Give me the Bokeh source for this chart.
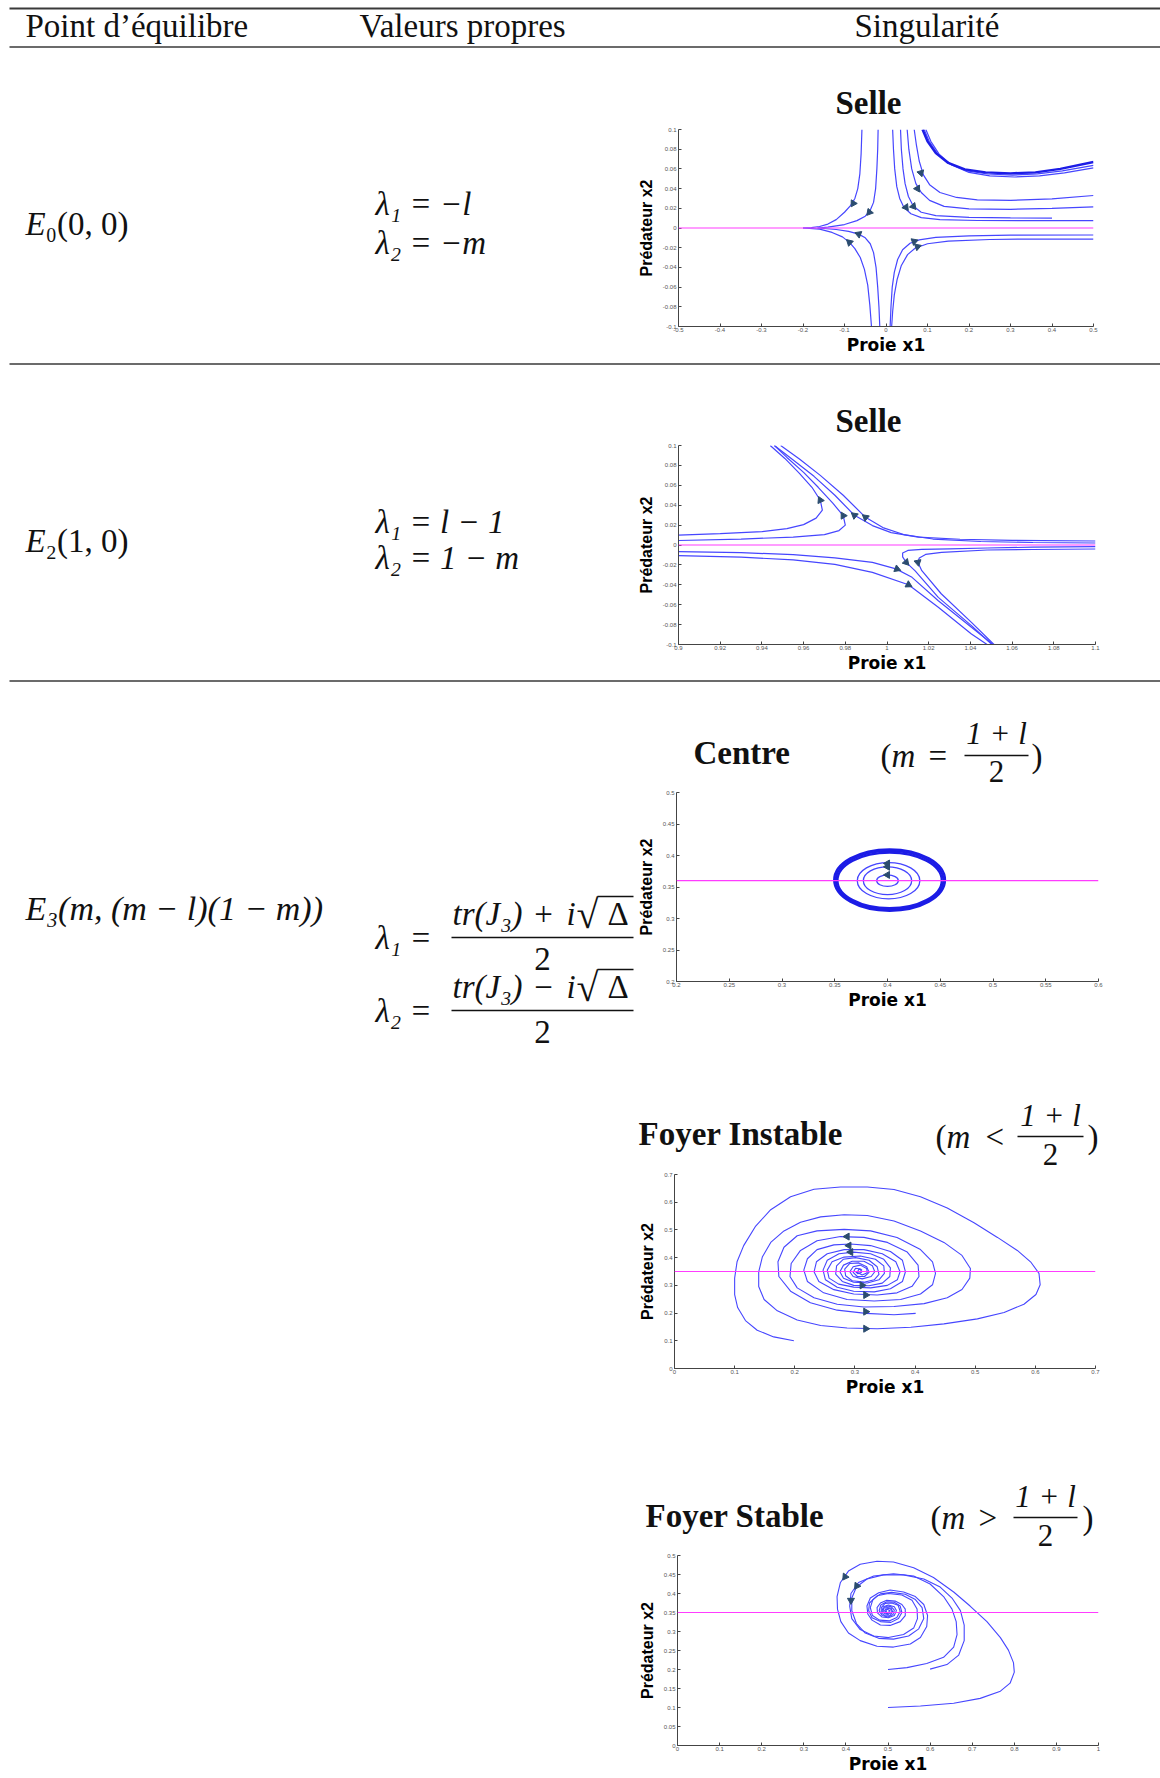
from bokeh.plotting import figure
from bokeh.models import Range1d, FixedTicker, CustomJSTickFormatter, Span, ColumnDataSource
from bokeh.layouts import row, column
from bokeh.embed import file_html
from bokeh.resources import INLINE
from bokeh.core.properties import value

# ---------------- table texts ----------------
HEADERS = ["Point d’équilibre", "Valeurs propres", "Singularité"]
POINTS = ["E₀(0, 0)", "E₂(1, 0)", "E₃(m, (m − l)(1 − m))"]
EIG_E0 = ["λ₁ = −l", "λ₂ = −m"]
EIG_E2 = ["λ₁ = l − 1", "λ₂ = 1 − m"]
EIG_E3_NUM_L = ["tr(J₃)", "tr(J₃)"]
EIG_E3_NUM_OP = ["+", "−"]
EIG_E3_LHS = ["λ₁ =", "λ₂ ="]
TITLES = ["Selle", "Selle", "Centre", "Foyer Instable", "Foyer Stable"]
REL = ["=", "<", ">"]
XLABEL = "Proie x1"
YLABEL = "Prédateur x2"

# ---------------- ticks ----------------
E0_XTICKS = [-0.5, -0.4, -0.3, -0.2, -0.1, 0, 0.1, 0.2, 0.3, 0.4, 0.5]
E0_YTICKS = [-0.1, -0.08, -0.06, -0.04, -0.02, 0, 0.02, 0.04, 0.06, 0.08, 0.1]
E2_XTICKS = [0.9, 0.92, 0.94, 0.96, 0.98, 1, 1.02, 1.04, 1.06, 1.08, 1.1]
E2_YTICKS = [-0.1, -0.08, -0.06, -0.04, -0.02, 0, 0.02, 0.04, 0.06, 0.08, 0.1]
C_XTICKS = [0.2, 0.25, 0.3, 0.35, 0.4, 0.45, 0.5, 0.55, 0.6]
C_YTICKS = [0.2, 0.25, 0.3, 0.35, 0.4, 0.45, 0.5]
FI_XTICKS = [0, 0.1, 0.2, 0.3, 0.4, 0.5, 0.6, 0.7]
FI_YTICKS = [0, 0.1, 0.2, 0.3, 0.4, 0.5, 0.6, 0.7]
FS_XTICKS = [0, 0.1, 0.2, 0.3, 0.4, 0.5, 0.6, 0.7, 0.8, 0.9, 1]
FS_YTICKS = [0, 0.05, 0.1, 0.15, 0.2, 0.25, 0.3, 0.35, 0.4, 0.45, 0.5]

# ---------------- E0 saddle ----------------
E0_EQ_Y = 0.0
E0_UL1_X = [-0.20, -0.18, -0.16, -0.14, -0.12, -0.10, -0.085, -0.075, -0.068, -0.063, -0.060, -0.058]
E0_UL1_Y = [0.0, 0.0003, 0.0015, 0.004, 0.0085, 0.016, 0.023, 0.030, 0.040, 0.055, 0.075, 0.10]
E0_UL2_X = [-0.165, -0.14, -0.10, -0.07, -0.05, -0.038, -0.030, -0.025, -0.022, -0.020, -0.019]
E0_UL2_Y = [0.0, 0.0008, 0.0035, 0.0075, 0.012, 0.018, 0.026, 0.040, 0.060, 0.080, 0.10]
E0_LL1_X = [-0.20, -0.16, -0.13, -0.105, -0.088, -0.075, -0.062, -0.052, -0.044, -0.039, -0.035]
E0_LL1_Y = [0.0, -0.0012, -0.0045, -0.009, -0.0146, -0.021, -0.030, -0.042, -0.058, -0.078, -0.10]
E0_LL2_X = [-0.165, -0.12, -0.09, -0.066, -0.050, -0.038, -0.030, -0.024, -0.020, -0.017, -0.015]
E0_LL2_Y = [0.0, -0.0015, -0.0035, -0.0062, -0.010, -0.016, -0.025, -0.040, -0.060, -0.080, -0.10]
E0_UR1_X = [0.016, 0.018, 0.021, 0.026, 0.033, 0.043, 0.060, 0.085, 0.13, 0.22, 0.35, 0.50]
E0_UR1_Y = [0.10, 0.080, 0.060, 0.042, 0.030, 0.021, 0.0145, 0.0105, 0.0085, 0.0076, 0.0074, 0.0074]
E0_UR2_X = [0.035, 0.037, 0.041, 0.046, 0.054, 0.066, 0.085, 0.12, 0.20, 0.30, 0.40]
E0_UR2_Y = [0.10, 0.080, 0.060, 0.045, 0.032, 0.022, 0.016, 0.0125, 0.0108, 0.0102, 0.0100]
E0_UR3_X = [0.051, 0.055, 0.062, 0.072, 0.085, 0.105, 0.14, 0.20, 0.30, 0.40, 0.50]
E0_UR3_Y = [0.10, 0.080, 0.060, 0.045, 0.036, 0.028, 0.022, 0.0195, 0.019, 0.020, 0.0215]
E0_UR4_X = [0.068, 0.073, 0.080, 0.090, 0.105, 0.13, 0.17, 0.22, 0.30, 0.40, 0.50]
E0_UR4_Y = [0.10, 0.085, 0.068, 0.054, 0.044, 0.036, 0.031, 0.0285, 0.028, 0.0295, 0.033]
E0_UR5_X = [0.088, 0.100, 0.120, 0.150, 0.19, 0.24, 0.30, 0.36, 0.42, 0.50]
E0_UR5_Y = [0.10, 0.088, 0.076, 0.066, 0.0595, 0.0565, 0.0555, 0.0565, 0.060, 0.067]
E0_UR6_X = [0.096, 0.108, 0.128, 0.158, 0.20, 0.25, 0.31, 0.37, 0.43, 0.50]
E0_UR6_Y = [0.10, 0.088, 0.075, 0.064, 0.0565, 0.053, 0.0518, 0.053, 0.056, 0.061]
E0_UR7_X = [0.092, 0.104, 0.124, 0.154, 0.195, 0.245, 0.305, 0.365, 0.425, 0.50]
E0_UR7_Y = [0.10, 0.088, 0.0755, 0.065, 0.058, 0.0548, 0.0537, 0.055, 0.058, 0.0635]
E0_LR1_X = [0.010, 0.012, 0.015, 0.020, 0.028, 0.040, 0.058, 0.08, 0.12, 0.20, 0.30, 0.50]
E0_LR1_Y = [-0.10, -0.080, -0.060, -0.045, -0.032, -0.022, -0.0155, -0.012, -0.0095, -0.008, -0.0073, -0.0071]
E0_LR2_X = [0.0136, 0.016, 0.020, 0.027, 0.037, 0.052, 0.070, 0.10, 0.15, 0.25, 0.35, 0.50]
E0_LR2_Y = [-0.10, -0.085, -0.068, -0.052, -0.038, -0.027, -0.0205, -0.016, -0.0133, -0.0117, -0.0112, -0.0112]
E0_ARROW_X = [-0.079, -0.040, 0.084, 0.076, 0.048, 0.066, -0.088, -0.066, 0.068, 0.076]
E0_ARROW_Y = [0.025, 0.016, 0.056, 0.040, 0.021, 0.022, -0.0146, -0.0062, -0.0136, -0.019]
E0_ARROW_ANGLE = [149, 140, -163, -149, -144, -140, 47, 69, -70, -71]

# ---------------- E2 saddle ----------------
E2_EQ_Y = 0.0
E2_A_X = [0.90, 0.92, 0.94, 0.952, 0.960, 0.966, 0.969, 0.968, 0.964, 0.958, 0.951, 0.944]
E2_A_Y = [0.010, 0.0115, 0.0135, 0.0165, 0.0205, 0.027, 0.035, 0.045, 0.058, 0.072, 0.087, 0.10]
E2_B_X = [0.90, 0.93, 0.955, 0.970, 0.977, 0.980, 0.979, 0.974, 0.967, 0.960, 0.952, 0.946]
E2_B_Y = [0.0045, 0.006, 0.008, 0.0105, 0.0145, 0.020, 0.0295, 0.042, 0.058, 0.073, 0.088, 0.10]
E2_C_X = [0.946, 0.955, 0.965, 0.975, 0.9844, 0.993, 1.002, 1.015, 1.035, 1.06, 1.10]
E2_C_Y = [0.10, 0.0855, 0.069, 0.050, 0.0298, 0.0195, 0.0125, 0.008, 0.0058, 0.0047, 0.004]
E2_D_X = [0.949, 0.958, 0.968, 0.979, 0.9897, 0.998, 1.008, 1.022, 1.045, 1.07, 1.10]
E2_D_Y = [0.10, 0.0865, 0.070, 0.050, 0.0278, 0.0175, 0.0105, 0.006, 0.0035, 0.0025, 0.002]
E2_E_X = [0.90, 0.93, 0.955, 0.975, 0.993, 1.0043, 1.012, 1.0246, 1.0405, 1.0508]
E2_E_Y = [-0.0067, -0.0077, -0.0097, -0.013, -0.0174, -0.024, -0.0325, -0.056, -0.0827, -0.10]
E2_F_X = [0.90, 0.93, 0.955, 0.975, 0.993, 1.0103, 1.0246, 1.0405, 1.048]
E2_F_Y = [-0.0107, -0.0122, -0.015, -0.0195, -0.0275, -0.040, -0.0626, -0.0894, -0.10]
E2_G_X = [1.10, 1.07, 1.048, 1.030, 1.0167, 1.010, 1.0075, 1.0075, 1.0092, 1.0135, 1.0246, 1.0405, 1.0503]
E2_G_Y = [-0.0017, -0.0022, -0.003, -0.0038, -0.0044, -0.0055, -0.008, -0.012, -0.0174, -0.026, -0.0526, -0.081, -0.10]
E2_H_X = [1.10, 1.07, 1.048, 1.0262, 1.0185, 1.0155, 1.0148, 1.0167, 1.026, 1.0405, 1.0513]
E2_H_Y = [-0.004, -0.0045, -0.005, -0.0074, -0.0095, -0.013, -0.0174, -0.0258, -0.049, -0.0777, -0.10]
E2_ARROW_X = [0.968, 0.979, 0.9844, 0.9897, 1.0048, 1.0103, 1.0092, 1.0148]
E2_ARROW_Y = [0.045, 0.0295, 0.0298, 0.0278, -0.0241, -0.040, -0.0174, -0.0174]
E2_ARROW_ANGLE = [25, 30, 51, 51, -111, -118, -138, -169]

# ---------------- Centre (closed orbits) ----------------
C_EQ_Y = 0.36
C_OUT_X = [0.402, 0.402, 0.402]
C_OUT_Y = [0.361, 0.3607, 0.3605]
C_OUT_W = [0.1051, 0.1020, 0.0988]
C_OUT_H = [0.0976, 0.0930, 0.0883]
C_IN_X = [0.401, 0.400, 0.400]
C_IN_Y = [0.360, 0.360, 0.360]
C_IN_W = [0.0593, 0.0458, 0.0205]
C_IN_H = [0.0576, 0.0441, 0.0182]
C_ARROW_X = [0.4, 0.4, 0.4]
C_ARROW_Y = [0.3873, 0.3821, 0.3692]
C_ARROW_ANGLE = [90, 90, 90]

# ---------------- Foyer instable ----------------
FI_EQ_Y = 0.35
FI_T1_X = [0.1985, 0.165, 0.1375, 0.118, 0.105, 0.100, 0.100, 0.104, 0.115, 0.135, 0.160, 0.193, 0.232, 0.276,
           0.3205, 0.365, 0.409, 0.4535, 0.498, 0.537, 0.570, 0.592, 0.606, 0.608, 0.601, 0.581, 0.548, 0.5036,
           0.448, 0.393, 0.337, 0.287, 0.243, 0.204, 0.171, 0.149, 0.140, 0.140, 0.146, 0.160, 0.182, 0.2095,
           0.243, 0.282, 0.3205, 0.365, 0.409, 0.448, 0.478, 0.492, 0.491, 0.478, 0.4535, 0.415, 0.365, 0.315,
           0.2705, 0.232, 0.204, 0.192, 0.194, 0.2095, 0.237, 0.276, 0.315, 0.354, 0.387, 0.405, 0.4065, 0.395,
           0.370, 0.337, 0.298, 0.265, 0.240, 0.232, 0.236, 0.254, 0.282, 0.315, 0.3455, 0.368, 0.375, 0.3705,
           0.354, 0.326, 0.298, 0.273, 0.257, 0.254, 0.262, 0.282, 0.309, 0.334, 0.348, 0.349, 0.340, 0.3205,
           0.298, 0.281, 0.275, 0.281, 0.2955, 0.315, 0.329, 0.333, 0.327, 0.312, 0.297, 0.2915, 0.297, 0.309,
           0.3195, 0.3205, 0.312, 0.304, 0.3065, 0.312]
FI_T1_Y = [0.100, 0.114, 0.138, 0.173, 0.220, 0.267, 0.326, 0.385, 0.4435, 0.514, 0.573, 0.620, 0.647, 0.655,
           0.655, 0.646, 0.620, 0.579, 0.526, 0.473, 0.426, 0.385, 0.3435, 0.302, 0.267, 0.232, 0.202, 0.179,
           0.161, 0.149, 0.1435, 0.146, 0.155, 0.175, 0.208, 0.249, 0.296, 0.349, 0.402, 0.455, 0.4965, 0.528,
           0.547, 0.555, 0.552, 0.532, 0.4965, 0.455, 0.408, 0.361, 0.326, 0.285, 0.255, 0.234, 0.2235, 0.222,
           0.232, 0.255, 0.291, 0.332, 0.379, 0.426, 0.461, 0.476, 0.473, 0.455, 0.420, 0.373, 0.332, 0.2965,
           0.273, 0.265, 0.269, 0.2845, 0.314, 0.349, 0.385, 0.414, 0.429, 0.429, 0.414, 0.385, 0.349, 0.320,
           0.300, 0.291, 0.2935, 0.3045, 0.326, 0.355, 0.385, 0.402, 0.406, 0.394, 0.3705, 0.3435, 0.320, 0.3085,
           0.311, 0.326, 0.349, 0.373, 0.387, 0.387, 0.3705, 0.349, 0.332, 0.3235, 0.332, 0.349, 0.367, 0.373,
           0.361, 0.3455, 0.3375, 0.347, 0.3585, 0.355]
FI_T2_X = [0.401, 0.365, 0.318, 0.2705, 0.226, 0.193, 0.1735, 0.172, 0.182, 0.204, 0.237, 0.282, 0.326, 0.370,
           0.409, 0.429, 0.434, 0.429, 0.409, 0.376, 0.332, 0.287, 0.248, 0.221, 0.215, 0.221, 0.237, 0.265,
           0.293, 0.326, 0.359, 0.379, 0.384, 0.379, 0.359, 0.332, 0.298, 0.2705, 0.251, 0.247, 0.254, 0.2735,
           0.298, 0.326, 0.348, 0.359, 0.358, 0.3455, 0.3235, 0.298, 0.279, 0.268, 0.2695, 0.2805, 0.301, 0.3235,
           0.337, 0.340, 0.332, 0.315, 0.2955, 0.2845, 0.283, 0.2915, 0.3065, 0.3195, 0.3235, 0.316, 0.304, 0.297,
           0.301, 0.3095, 0.311, 0.305, 0.301]
FI_T2_Y = [0.199, 0.194, 0.199, 0.2105, 0.2375, 0.279, 0.332, 0.385, 0.4375, 0.479, 0.4965, 0.502, 0.4965, 0.473,
           0.429, 0.385, 0.3435, 0.302, 0.269, 0.249, 0.2435, 0.249, 0.273, 0.314, 0.355, 0.396, 0.429, 0.446,
           0.449, 0.4435, 0.422, 0.3905, 0.349, 0.314, 0.288, 0.2765, 0.279, 0.293, 0.320, 0.355, 0.3905, 0.414,
           0.420, 0.414, 0.394, 0.363, 0.332, 0.308, 0.2985, 0.300, 0.314, 0.3405, 0.3705, 0.394, 0.400, 0.3905,
           0.367, 0.340, 0.320, 0.3115, 0.3165, 0.3345, 0.359, 0.379, 0.381, 0.367, 0.347, 0.332, 0.332, 0.3465,
           0.3615, 0.359, 0.347, 0.342, 0.3495]
FI_ARROW_X = [0.287, 0.290, 0.293, 0.312, 0.318, 0.318, 0.318]
FI_ARROW_Y = [0.476, 0.4435, 0.420, 0.300, 0.265, 0.205, 0.1435]
FI_ARROW_ANGLE = [90, 90, 90, -90, -90, -90, -90]

# ---------------- Foyer stable ----------------
FS_EQ_Y = 0.35
FS_A_X = [0.50, 0.577, 0.656, 0.719, 0.767, 0.790, 0.800, 0.798, 0.786, 0.767, 0.735, 0.695, 0.656, 0.608,
          0.561, 0.513, 0.474, 0.434, 0.406, 0.387, 0.379, 0.380, 0.388, 0.406, 0.434, 0.474, 0.513, 0.553,
          0.577, 0.592, 0.594, 0.585, 0.565, 0.537, 0.505, 0.478, 0.458, 0.450, 0.452, 0.462, 0.482, 0.505,
          0.529, 0.541, 0.541, 0.533, 0.517, 0.497, 0.482, 0.474, 0.475, 0.486, 0.501, 0.515, 0.520, 0.515,
          0.501, 0.489, 0.486, 0.492, 0.501, 0.508, 0.507, 0.500, 0.495, 0.497]
FS_A_Y = [0.10, 0.104, 0.111, 0.124, 0.143, 0.164, 0.193, 0.218, 0.251, 0.284, 0.326, 0.367, 0.404, 0.442,
          0.468, 0.483, 0.485, 0.477, 0.459, 0.429, 0.392, 0.359, 0.326, 0.296, 0.276, 0.261, 0.259, 0.267,
          0.284, 0.313, 0.342, 0.371, 0.392, 0.404, 0.409, 0.402, 0.388, 0.367, 0.346, 0.330, 0.317, 0.316,
          0.326, 0.342, 0.359, 0.371, 0.380, 0.382, 0.375, 0.363, 0.349, 0.338, 0.336, 0.342, 0.355, 0.365,
          0.370, 0.365, 0.355, 0.346, 0.345, 0.350, 0.359, 0.361, 0.356, 0.352]
FS_B_X = [0.50, 0.545, 0.592, 0.632, 0.656, 0.664, 0.662, 0.652, 0.632, 0.600, 0.561, 0.513, 0.466, 0.430,
          0.412, 0.409, 0.414, 0.434, 0.466, 0.501, 0.537, 0.561, 0.570, 0.569, 0.557, 0.533, 0.501, 0.474,
          0.456, 0.454, 0.462, 0.482, 0.507, 0.525, 0.533, 0.529, 0.515, 0.497, 0.483, 0.479, 0.486, 0.500,
          0.512, 0.515, 0.508, 0.497, 0.489, 0.491, 0.500, 0.504, 0.497]
FS_B_Y = [0.20, 0.205, 0.216, 0.232, 0.259, 0.292, 0.326, 0.359, 0.392, 0.425, 0.446, 0.452, 0.446, 0.429,
          0.400, 0.367, 0.334, 0.305, 0.288, 0.284, 0.292, 0.309, 0.334, 0.359, 0.382, 0.396, 0.400, 0.394,
          0.375, 0.355, 0.336, 0.326, 0.324, 0.334, 0.350, 0.367, 0.377, 0.378, 0.370, 0.355, 0.342, 0.338,
          0.345, 0.356, 0.365, 0.367, 0.360, 0.349, 0.347, 0.355, 0.359]
FS_C_X = [0.600, 0.640, 0.668, 0.681, 0.681, 0.672, 0.652, 0.624, 0.585, 0.537, 0.489, 0.450, 0.425, 0.414,
          0.414, 0.425, 0.446, 0.478, 0.513, 0.549, 0.573, 0.585, 0.581, 0.565, 0.541, 0.509, 0.482, 0.464,
          0.458, 0.463, 0.480, 0.504, 0.521, 0.529, 0.524, 0.509, 0.493, 0.484, 0.484, 0.493, 0.505, 0.511,
          0.507, 0.497, 0.492, 0.497]
FS_C_Y = [0.201, 0.213, 0.238, 0.276, 0.317, 0.355, 0.388, 0.417, 0.438, 0.449, 0.449, 0.438, 0.417, 0.388,
          0.355, 0.321, 0.296, 0.282, 0.280, 0.288, 0.307, 0.334, 0.363, 0.384, 0.398, 0.403, 0.399, 0.384,
          0.363, 0.342, 0.330, 0.328, 0.337, 0.353, 0.369, 0.375, 0.374, 0.363, 0.349, 0.341, 0.342, 0.352,
          0.362, 0.363, 0.355, 0.350]
FS_ARROW_X = [0.398, 0.426, 0.412]
FS_ARROW_Y = [0.444, 0.420, 0.382]
FS_ARROW_ANGLE = [145, 146, 180]

# ---------------- styling ----------------
SERIF = "Liberation Serif"
TRAJ = "#4646ff"
DARK = "#1c1ce6"
ARROW = "#2b4c6f"
MAGENTA = "#ff3cff"
INK = "#111111"
RULE = "#3a3a3a"
FS = 33          # main serif size (px)
PW = 526         # width of the portrait column figures
PX0 = 634        # left edge of the portrait column


def helper(x0, x1, y0, y1):
    p = figure(width=x1 - x0, height=y1 - y0, x_range=Range1d(x0, x1), y_range=Range1d(y1, y0),
               output_backend="svg", toolbar_location=None, title=None,
               x_axis_type=None, y_axis_type=None, min_border=0, frame_align=False,
               outline_line_color=None, background_fill_color="white", border_fill_color="white")
    return p


def txt(p, x, y, s, size=FS, style="normal", align="left"):
    p.text(x=[x], y=[y], text=[s], text_font=value(SERIF), text_font_size=f"{size}px",
           text_font_style=style, text_align=align, text_baseline="middle", text_color=INK)


def hrule(p, x0, x1, y, w):
    p.segment(x0=[x0], y0=[y], x1=[x1], y1=[y], line_color=RULE, line_width=w)


def frac_title(p, x_title, y, title, x_par, x_m, x_rel, rel, xc, half, x_close, y_num, y_bar, y_den):
    txt(p, x_title, y, title, style="bold")
    txt(p, x_par, y_bar, "(")
    txt(p, x_m, y_bar, "m", style="italic")
    txt(p, x_rel, y_bar, rel)
    txt(p, xc, y_num, "1 + l", size=31, style="italic", align="center")
    p.segment(x0=[xc - half], y0=[y_bar], x1=[xc + half], y1=[y_bar], line_color=INK, line_width=1.3)
    txt(p, xc, y_den, "2", size=31, align="center")
    txt(p, x_close, y_bar, ")")


def phase(h, left, top, fw, fh, xr, yr, xticks, yticks, eq_y):
    w = PW
    p = figure(width=w, height=h, x_range=Range1d(*xr), y_range=Range1d(*yr),
               output_backend="svg", toolbar_location=None, title=None, frame_align=False,
               min_border_left=left, min_border_top=top,
               min_border_right=w - left - fw, min_border_bottom=h - top - fh,
               outline_line_color=None, background_fill_color="white", border_fill_color="white")
    p.grid.visible = False
    p.xaxis.ticker = FixedTicker(ticks=xticks, minor_ticks=[])
    p.yaxis.ticker = FixedTicker(ticks=yticks, minor_ticks=[])
    fmt = CustomJSTickFormatter(code="return String(tick);")
    p.xaxis.formatter = fmt
    p.yaxis.formatter = fmt
    for ax in (p.xaxis[0], p.yaxis[0]):
        ax.major_tick_in = 3
        ax.major_tick_out = 0
        ax.minor_tick_in = 0
        ax.minor_tick_out = 0
        ax.axis_line_color = "#444444"
        ax.major_tick_line_color = "#444444"
        ax.major_label_text_font = "Liberation Sans"
        ax.major_label_text_font_size = "6px"
        ax.major_label_text_color = "#555555"
        ax.axis_label_text_font_style = "bold"
        ax.axis_label_text_color = "#000000"
    p.xaxis.axis_label = XLABEL
    p.xaxis.axis_label_text_font = "DejaVu Sans"
    p.xaxis.axis_label_text_font_size = "17px"
    p.xaxis.major_label_standoff = 1
    p.xaxis.axis_label_standoff = 0
    p.yaxis.axis_label = YLABEL
    p.yaxis.axis_label_text_font = "Liberation Sans"
    p.yaxis.axis_label_text_font_size = "16px"
    p.yaxis.major_label_standoff = 2
    p.yaxis.axis_label_standoff = 5
    p.add_layout(Span(location=eq_y, dimension="width", line_color=MAGENTA, line_width=1.2))
    return p


def arrows(p, xs, ys, ang):
    src = ColumnDataSource(dict(x=xs, y=ys, a=ang))
    p.scatter(x="x", y="y", angle="a", angle_units="deg", marker="triangle", size=7,
              source=src, fill_color=ARROW, line_color=ARROW)


# ---------------- band A: rules, headers, first title ----------------
bandA = helper(0, 1160, 0, 124)
hrule(bandA, 9, 1160, 8, 2)
hrule(bandA, 9, 1160, 46.5, 1.4)
txt(bandA, 25, 25, HEADERS[0])
txt(bandA, 359, 25, HEADERS[1])
txt(bandA, 854, 25, HEADERS[2])
txt(bandA, 868, 102, TITLES[0], style="bold", align="center")

# ---------------- row E0 ----------------
bandB = helper(0, PX0, 124, 358)
txt(bandB, 25, 223, "E", style="italic")
txt(bandB, 45, 223, POINTS[0][1:])
txt(bandB, 375, 203, EIG_E0[0], style="italic")
txt(bandB, 375, 242, EIG_E0[1], style="italic")

p1 = phase(234, 43, 5, 416, 197, (-0.5, 0.5), (-0.1, 0.1), E0_XTICKS, E0_YTICKS, E0_EQ_Y)
p1.multi_line(xs=[E0_UL1_X, E0_UL2_X, E0_LL1_X, E0_LL2_X, E0_UR1_X, E0_UR2_X, E0_UR3_X, E0_UR4_X,
                  E0_UR6_X, E0_UR7_X, E0_LR1_X, E0_LR2_X],
              ys=[E0_UL1_Y, E0_UL2_Y, E0_LL1_Y, E0_LL2_Y, E0_UR1_Y, E0_UR2_Y, E0_UR3_Y, E0_UR4_Y,
                  E0_UR6_Y, E0_UR7_Y, E0_LR1_Y, E0_LR2_Y],
              line_color=TRAJ, line_width=1.2)
p1.line(E0_UR5_X, E0_UR5_Y, line_color=DARK, line_width=2.4)
arrows(p1, E0_ARROW_X, E0_ARROW_Y, E0_ARROW_ANGLE)

# ---------------- band C ----------------
bandC = helper(0, 1160, 358, 441)
hrule(bandC, 9, 1160, 363.5, 1.5)
txt(bandC, 868, 420, TITLES[1], style="bold", align="center")

# ---------------- row E2 ----------------
bandD = helper(0, PX0, 441, 676)
txt(bandD, 25, 540, "E", style="italic")
txt(bandD, 45, 540, POINTS[1][1:])
txt(bandD, 375, 521, EIG_E2[0], style="italic")
txt(bandD, 375, 557, EIG_E2[1], style="italic")

p2 = phase(235, 41, 4, 420, 199, (0.9, 1.1), (-0.1, 0.1), E2_XTICKS, E2_YTICKS, E2_EQ_Y)
p2.multi_line(xs=[E2_A_X, E2_B_X, E2_C_X, E2_D_X, E2_E_X, E2_F_X, E2_G_X, E2_H_X],
              ys=[E2_A_Y, E2_B_Y, E2_C_Y, E2_D_Y, E2_E_Y, E2_F_Y, E2_G_Y, E2_H_Y],
              line_color=TRAJ, line_width=1.2)
arrows(p2, E2_ARROW_X, E2_ARROW_Y, E2_ARROW_ANGLE)

# ---------------- band E: rule + Centre title ----------------
bandE = helper(0, 1160, 676, 790)
hrule(bandE, 9, 1160, 680.5, 1.5)
frac_title(bandE, 693, 752, TITLES[2], 880, 891, 928, REL[0], 996, 32, 1031, 733, 755, 771)

# ---------------- row E3 ----------------
bandF = helper(0, PX0, 790, 1776)
txt(bandF, 25, 908, POINTS[2], size=34, style="italic")
for k, yb in enumerate([937, 1010]):
    ny = yb - 24
    txt(bandF, 375, yb, EIG_E3_LHS[k], style="italic")
    txt(bandF, 452, ny, EIG_E3_NUM_L[k], style="italic")
    txt(bandF, 543, ny, EIG_E3_NUM_OP[k], align="center")
    txt(bandF, 566, ny, "i", style="italic")
    txt(bandF, 576, ny + 1, "√", size=40)
    txt(bandF, 607, ny, "Δ")
    bandF.segment(x0=[597], y0=[yb - 41], x1=[633], y1=[yb - 41], line_color=INK, line_width=1.3)
    bandF.segment(x0=[451], y0=[yb], x1=[633], y1=[yb], line_color=INK, line_width=1.3)
    txt(bandF, 542, yb + 21, "2", align="center")

p3 = phase(222, 42, 2, 422, 190, (0.2, 0.6), (0.2, 0.5), C_XTICKS, C_YTICKS, C_EQ_Y)
p3.ellipse(x=C_OUT_X, y=C_OUT_Y, width=C_OUT_W, height=C_OUT_H, fill_color=None,
           line_color=DARK, line_width=2.2)
p3.ellipse(x=C_IN_X, y=C_IN_Y, width=C_IN_W, height=C_IN_H, fill_color=None,
           line_color=TRAJ, line_width=1.3)
arrows(p3, C_ARROW_X, C_ARROW_Y, C_ARROW_ANGLE)

t4 = helper(PX0, 1160, 1012, 1172)
frac_title(t4, 638, 1133, TITLES[3], 935, 946, 985, REL[1], 1050, 33, 1087, 1115, 1136, 1154)

p4 = phase(227, 40, 2, 421, 195, (0, 0.7), (0, 0.7), FI_XTICKS, FI_YTICKS, FI_EQ_Y)
p4.line(FI_T1_X, FI_T1_Y, line_color=TRAJ, line_width=1.1)
p4.line(FI_T2_X, FI_T2_Y, line_color=TRAJ, line_width=1.1)
arrows(p4, FI_ARROW_X, FI_ARROW_Y, FI_ARROW_ANGLE)

t5 = helper(PX0, 1160, 1399, 1553)
frac_title(t5, 645, 1515, TITLES[4], 930, 941, 978, REL[2], 1045, 32, 1082, 1496, 1517, 1535)

p5 = phase(223, 43, 2, 421, 193, (0, 1), (0, 0.5), FS_XTICKS, FS_YTICKS, FS_EQ_Y)
p5.line(FS_A_X, FS_A_Y, line_color=TRAJ, line_width=1.1)
p5.line(FS_B_X, FS_B_Y, line_color=TRAJ, line_width=1.1)
p5.line(FS_C_X, FS_C_Y, line_color=TRAJ, line_width=1.1)
arrows(p5, FS_ARROW_X, FS_ARROW_Y, FS_ARROW_ANGLE)

layout = column(
    bandA,
    row(bandB, p1),
    bandC,
    row(bandD, p2),
    bandE,
    row(bandF, column(p3, t4, p4, t5, p5)),
)

open("out.html", "w").write(file_html(layout, INLINE))
